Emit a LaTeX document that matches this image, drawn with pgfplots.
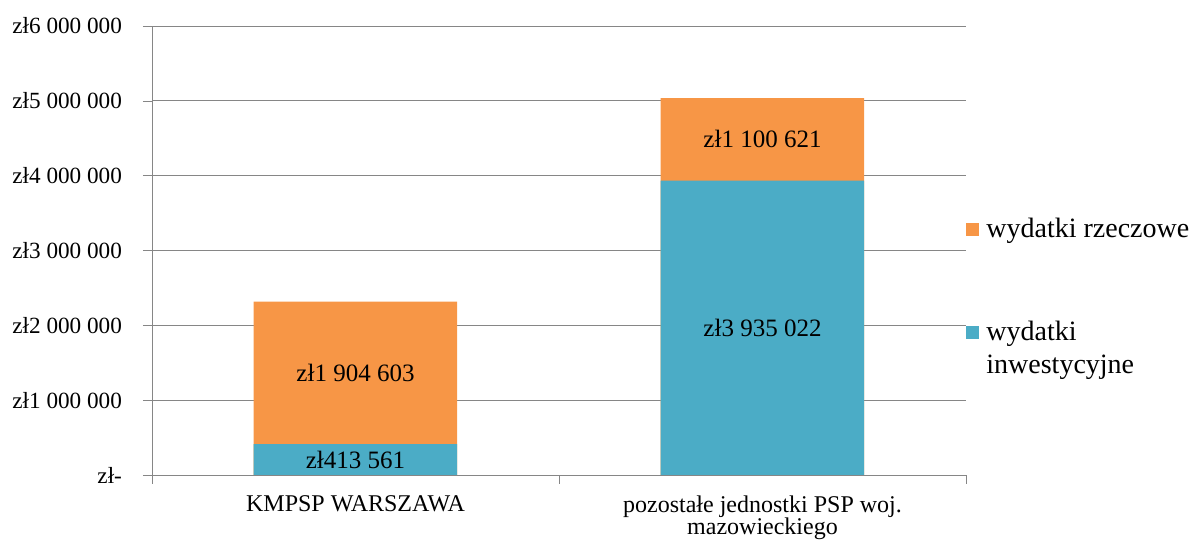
\documentclass[border=0pt]{standalone}
\usepackage{fontspec}
\setmainfont{Liberation Serif}
\usepackage{pgfplots}
\pgfplotsset{compat=1.18}

\definecolor{rzecz}{HTML}{F79646}
\definecolor{inwest}{HTML}{4BACC6}
\definecolor{axgray}{HTML}{868686}

\begin{document}
\begin{tikzpicture}

\begin{axis}[%
width=407pt, height=224.5pt, scale only axis,%
xmin=-0.5, xmax=1.5, ymin=0, ymax=6000000,%
axis x line=bottom, axis y line=left,%
axis line style={draw=axgray,-},%
tick align=outside, major tick length=4.5pt,%
tick style={draw=axgray},%
xtick={0,1},%
xticklabels={KMPSP WARSZAWA,{pozostałe jednostki PSP woj.\\mazowieckiego}},%
xticklabel style={align=center, font=\fontsize{12}{11}\selectfont, yshift=-2.5pt},%
major x tick style={draw=none},%
extra x ticks={-0.5,0.5,1.5}, extra x tick labels={},%
extra x tick style={major x tick style={draw=axgray}, grid=none},%
ytick={0,1000000,2000000,3000000,4000000,5000000,6000000},%
yticklabels={zł-,zł1 000 000,zł2 000 000,zł3 000 000,zł4 000 000,zł5 000 000,zł6 000 000},%
yticklabel style={font=\fontsize{11.6}{13}\selectfont, xshift=-7pt},%
scaled y ticks=false,%
ymajorgrids, grid style={draw=axgray},%
legend style={at={(rel axis cs:1,0.581)}, anchor=north west, draw=none, fill=none,%
  inner sep=0pt, row sep=36pt, column sep=1.5pt, font=\fontsize{14}{16.5}\selectfont,%
  cells={inner sep=0pt}},%
legend cell align=left,%
legend image code/.code={\fill (0pt,-3.25pt) rectangle (6.5pt,3.25pt);},%
]

% orange bars: full height (inwestycyjne + rzeczowe), blue drawn over the lower part
\addplot [ybar, bar width=0.5, bar shift=0pt, fill=rzecz, draw=none]
coordinates { (0,2318164) (1,5035643) };
\addlegendentry{wydatki rzeczowe}

\addplot [ybar, bar width=0.5, bar shift=0pt, fill=inwest, draw=none]
coordinates { (0,413561) (1,3935022) };
\addlegendentry{\vphantom{wydatki}\smash{\begin{tabular}[t]{@{}l@{}}wydatki\\inwestycyjne\end{tabular}}}

% value labels in the middle of each segment
\addplot [draw=none, mark=none, forget plot,%
  nodes near coords, point meta=explicit symbolic,%
  nodes near coords style={anchor=center, font=\fontsize{12.5}{15}\selectfont}]
coordinates {
 (0,206780.5) [zł413 561]
 (0,1365862.5) [zł1 904 603]
 (1,1967511) [zł3 935 022]
 (1,4485332.5) [zł1 100 621]
};

\end{axis}

\pgfresetboundingbox
\useasboundingbox (-76pt,-32.5pt) rectangle (519pt,237.5pt);

\end{tikzpicture}
\end{document}
